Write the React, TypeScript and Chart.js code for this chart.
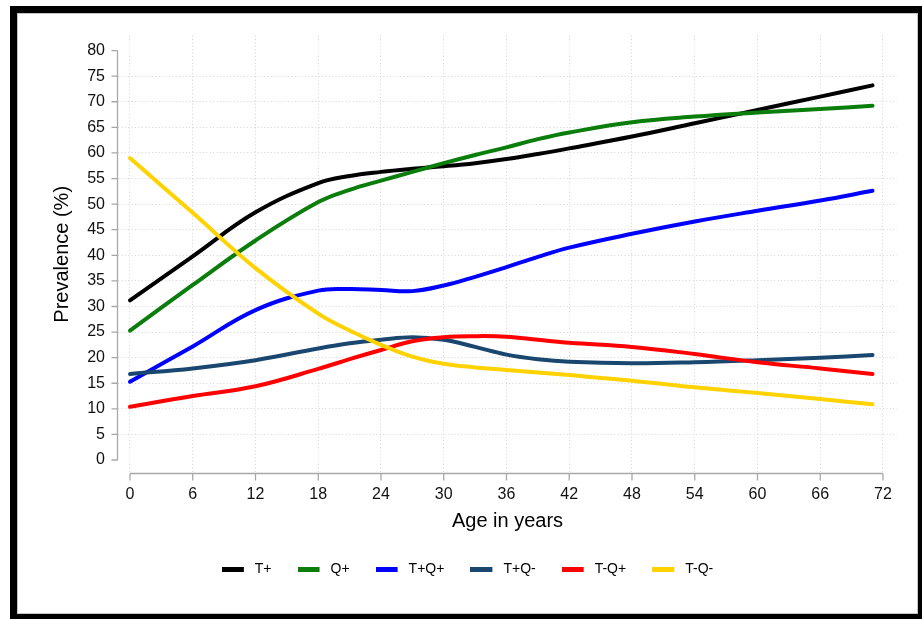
import React, { useEffect, useRef } from "react";
import { Chart, registerables } from "chart.js";

Chart.register(...registerables);

// ---- data ----
const ages = [0, 6, 12, 18, 21, 24, 27, 30, 33, 36, 39, 42, 48, 54, 60, 66, 71];
const tPlus = [31.2, 39.8, 48.4, 54.1, 55.5, 56.3, 56.9, 57.4, 58.0, 58.8, 59.8, 60.9, 63.2, 65.8, 68.4, 71.0, 73.2];
const qPlus = [25.3, 34.2, 42.9, 50.4, 52.8, 54.6, 56.3, 58.0, 59.6, 61.1, 62.7, 64.0, 66.0, 67.1, 67.9, 68.6, 69.2];
const tPlusQPlus = [15.3, 22.2, 29.3, 33.1, 33.4, 33.2, 33.0, 34.1, 35.8, 37.7, 39.7, 41.5, 44.2, 46.6, 48.7, 50.7, 52.6];
const tPlusQMinus = [16.8, 17.9, 19.5, 21.8, 22.8, 23.5, 24.0, 23.5, 22.1, 20.6, 19.7, 19.2, 18.9, 19.1, 19.5, 20.0, 20.5];
const tMinusQPlus = [10.4, 12.5, 14.4, 17.8, 19.7, 21.5, 23.2, 24.0, 24.2, 24.1, 23.5, 22.9, 22.1, 20.7, 19.1, 17.9, 16.8];
const tMinusQMinus = [59.0, 48.3, 37.5, 28.6, 25.3, 22.5, 20.2, 18.8, 18.1, 17.6, 17.1, 16.6, 15.5, 14.2, 13.1, 11.9, 10.9];

const seriesLabels = ["T+", "Q+", "T+Q+", "T+Q-", "T-Q+", "T-Q-"];
const seriesValues = [tPlus, qPlus, tPlusQPlus, tPlusQMinus, tMinusQPlus, tMinusQMinus];
const seriesColors = ["#000000", "#0a7d0a", "#0000ff", "#1a476f", "#ff0000", "#ffd200"];

const xTicks = [0, 6, 12, 18, 24, 30, 36, 42, 48, 54, 60, 66, 72];
const yTicks = [0, 5, 10, 15, 20, 25, 30, 35, 40, 45, 50, 55, 60, 65, 70, 75, 80];

const FONT = "'Liberation Sans', Arial, Helvetica, sans-serif";

function swatch(color: string) {
  const c = document.createElement("canvas");
  c.width = 26;
  c.height = 5;
  const g = c.getContext("2d")!;
  g.fillStyle = color;
  g.fillRect(0, 0, 22, 5);
  return c;
}

const axesPlugin = {
  id: "stataAxes",
  beforeDatasetsDraw(chart: any) {
    const { ctx, chartArea, scales } = chart;
    const x = scales.x;
    const y = scales.y;
    ctx.save();
    ctx.strokeStyle = "#a8a8a8";
    ctx.lineWidth = 1.3;
    ctx.beginPath();
    const ax = Math.round(chartArea.left) - 0.5;
    ctx.moveTo(ax, y.getPixelForValue(yTicks[yTicks.length - 1]));
    ctx.lineTo(ax, y.getPixelForValue(yTicks[0]));
    yTicks.forEach((v) => {
      const py = y.getPixelForValue(v);
      ctx.moveTo(ax - 6, py);
      ctx.lineTo(ax, py);
    });
    const ay = Math.round(chartArea.bottom) + 0.5;
    ctx.moveTo(x.getPixelForValue(xTicks[0]), ay);
    ctx.lineTo(x.getPixelForValue(xTicks[xTicks.length - 1]), ay);
    xTicks.forEach((v) => {
      const px = x.getPixelForValue(v);
      ctx.moveTo(px, ay);
      ctx.lineTo(px, ay + 7);
    });
    ctx.stroke();
    ctx.restore();
  },
};

export default function App() {
  const ref = useRef<HTMLCanvasElement>(null);

  useEffect(() => {
    const datasets = seriesLabels.map((label, i) => ({
      label,
      data: ages.map((a, k) => ({ x: a, y: seriesValues[i][k] })),
      borderColor: seriesColors[i],
      backgroundColor: seriesColors[i],
      borderWidth: 4,
      borderCapStyle: "round" as const,
      borderJoinStyle: "round" as const,
      pointRadius: 0,
      pointHoverRadius: 0,
      tension: 0.4,
      fill: false,
      order: -i,
    }));

    const chart = new Chart(ref.current!, {
      type: "line",
      data: { datasets },
      plugins: [axesPlugin],
      options: {
        animation: false,
        responsive: false,
        devicePixelRatio: 1,
        events: [],
        layout: { padding: { left: 21, right: 21, top: 22, bottom: 28 } },
        font: { family: FONT },
        scales: {
          x: {
            type: "linear",
            min: -1.147,
            max: 73.34,
            afterBuildTicks: (s: any) => {
              s.ticks = xTicks.map((v) => ({ value: v }));
            },
            afterFit: (s: any) => {
              s.height = 63;
            },
            grid: {
              color: "#d4d4d4",
              lineWidth: 1,
              drawTicks: false,
            },
            border: { display: false, dash: [1, 2.4] },
            ticks: {
              autoSkip: false,
              maxRotation: 0,
              padding: 12,
              color: "#111",
              font: { family: FONT, size: 16 },
            },
            title: {
              display: true,
              text: "Age in years",
              color: "#000",
              font: { family: FONT, size: 20 },
              padding: { top: 0, bottom: 3 },
            },
          },
          y: {
            type: "linear",
            min: -2.537,
            max: 82.93,
            afterBuildTicks: (s: any) => {
              s.ticks = yTicks.map((v) => ({ value: v }));
            },
            afterFit: (s: any) => {
              s.width = 80;
            },
            grid: {
              color: (c: any) =>
                c.tick && (c.tick.value === 0 || c.tick.value === 80) ? "rgba(0,0,0,0)" : "#d4d4d4",
              lineWidth: 1,
              drawTicks: false,
            },
            border: { display: false, dash: [1, 2.4] },
            ticks: {
              autoSkip: false,
              padding: 13,
              color: "#111",
              font: { family: FONT, size: 16 },
            },
            title: {
              display: true,
              text: "Prevalence (%)",
              color: "#000",
              font: { family: FONT, size: 20 },
              padding: { top: 12, bottom: 0 },
            },
          },
        },
        plugins: {
          tooltip: { enabled: false },
          legend: {
            display: true,
            position: "bottom",
            labels: {
              usePointStyle: true,
              pointStyleWidth: 26,
              padding: 26,
              color: "#000",
              font: { family: FONT, size: 14 },
              generateLabels: (c: any) => {
                const items = (Chart.defaults.plugins.legend.labels as any).generateLabels(c);
                items.sort((a: any, b: any) => a.datasetIndex - b.datasetIndex);
                return items.map((it: any) => ({
                  ...it,
                  pointStyle: swatch(seriesColors[it.datasetIndex]),
                  lineWidth: 0,
                }));
              },
            },
          },
        },
      } as any,
    });
    return () => chart.destroy();
  }, []);

  return (
    <div
      style={{
        position: "fixed",
        left: 0,
        top: 0,
        width: 922,
        height: 619,
        overflow: "hidden",
        background: "#fff",
      }}
    >
      <div
        style={{
          position: "absolute",
          left: 10,
          top: 6,
          width: 901,
          height: 601,
          border: "7px solid #000",
          boxShadow: "inset 0 0 0 1px #c4c4c4",
          background: "#fff",
        }}
      >
        <canvas
          ref={ref}
          width={901}
          height={601}
          style={{ display: "block", width: 901, height: 601 }}
        />
      </div>
    </div>
  );
}
